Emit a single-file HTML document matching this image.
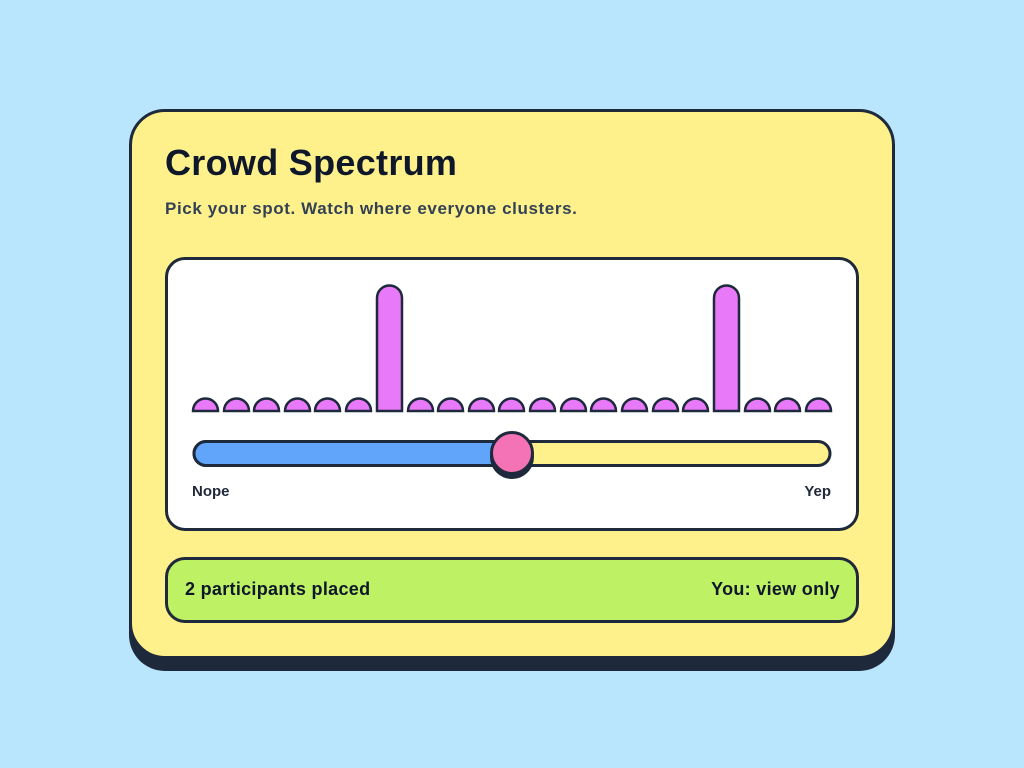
<!DOCTYPE html>
<html><head><meta charset="utf-8"><style>
body{margin:0;width:1024px;height:768px;background:#bae6fd;position:relative;overflow:hidden;font-family:"Liberation Sans",Arial,sans-serif}
.card{position:absolute;left:129px;top:109px;width:760px;height:544px;background:#fef08a;border:3px solid #1e293b;border-radius:36px;box-shadow:0 12px 0 #1e293b}
h1{position:absolute;left:165px;top:142px;margin:0;font-size:36px;font-weight:bold;color:#0f172a;line-height:42px;letter-spacing:0.3px}
.sub{position:absolute;left:165px;top:198px;font-size:17px;font-weight:bold;color:#334155;line-height:22px;letter-spacing:0.6px}
.panel{position:absolute;left:165px;top:257px;width:688px;height:268px;background:#fff;border:3px solid #1e293b;border-radius:20px}
.lbl{position:absolute;top:483px;font-size:15px;font-weight:bold;color:#1e293b;line-height:18px}
.foot{position:absolute;left:165px;top:557px;width:688px;height:60px;background:#bef264;border:3px solid #1e293b;border-radius:20px}
.ft{position:absolute;top:578px;font-size:18px;font-weight:bold;color:#0f172a;line-height:22px;letter-spacing:0.3px}
</style></head><body>
<div class="card"></div>
<h1>Crowd Spectrum</h1>
<div class="sub">Pick your spot. Watch where everyone clusters.</div>
<div class="panel"></div>
<svg style="position:absolute;left:0;top:0" width="1024" height="768">
<g fill="#e879f9" stroke="#1e293b" stroke-width="2.5">
<path d="M193 411 a12.5 12.5 0 0 1 25 0 z"/>
<path d="M224 411 a12.5 12.5 0 0 1 25 0 z"/>
<path d="M254 411 a12.5 12.5 0 0 1 25 0 z"/>
<path d="M285 411 a12.5 12.5 0 0 1 25 0 z"/>
<path d="M315 411 a12.5 12.5 0 0 1 25 0 z"/>
<path d="M346 411 a12.5 12.5 0 0 1 25 0 z"/>
<path d="M377 411 V298 a12.5 12.5 0 0 1 25 0 V411 z"/>
<path d="M408 411 a12.5 12.5 0 0 1 25 0 z"/>
<path d="M438 411 a12.5 12.5 0 0 1 25 0 z"/>
<path d="M469 411 a12.5 12.5 0 0 1 25 0 z"/>
<path d="M499 411 a12.5 12.5 0 0 1 25 0 z"/>
<path d="M530 411 a12.5 12.5 0 0 1 25 0 z"/>
<path d="M561 411 a12.5 12.5 0 0 1 25 0 z"/>
<path d="M591 411 a12.5 12.5 0 0 1 25 0 z"/>
<path d="M622 411 a12.5 12.5 0 0 1 25 0 z"/>
<path d="M653 411 a12.5 12.5 0 0 1 25 0 z"/>
<path d="M683 411 a12.5 12.5 0 0 1 25 0 z"/>
<path d="M714 411 V298 a12.5 12.5 0 0 1 25 0 V411 z"/>
<path d="M745 411 a12.5 12.5 0 0 1 25 0 z"/>
<path d="M775 411 a12.5 12.5 0 0 1 25 0 z"/>
<path d="M806 411 a12.5 12.5 0 0 1 25 0 z"/>
</g>
<rect x="194" y="441.5" width="636" height="24" rx="12" fill="#fef08a" stroke="#1e293b" stroke-width="3"/>
<path d="M206 441.5 H512 V465.5 H206 a12 12 0 0 1 0 -24 z" fill="#60a5fa" stroke="#1e293b" stroke-width="3"/>
<circle cx="512" cy="457" r="22" fill="#1e293b"/>
<circle cx="512" cy="453" r="20.5" fill="#f472b6" stroke="#1e293b" stroke-width="3"/>
</svg>
<div class="lbl" style="left:192px">Nope</div>
<div class="lbl" style="right:193px">Yep</div>
<div class="foot"></div>
<div class="ft" style="left:185px">2 participants placed</div>
<div class="ft" style="right:184px">You: view only</div>
</body></html>
